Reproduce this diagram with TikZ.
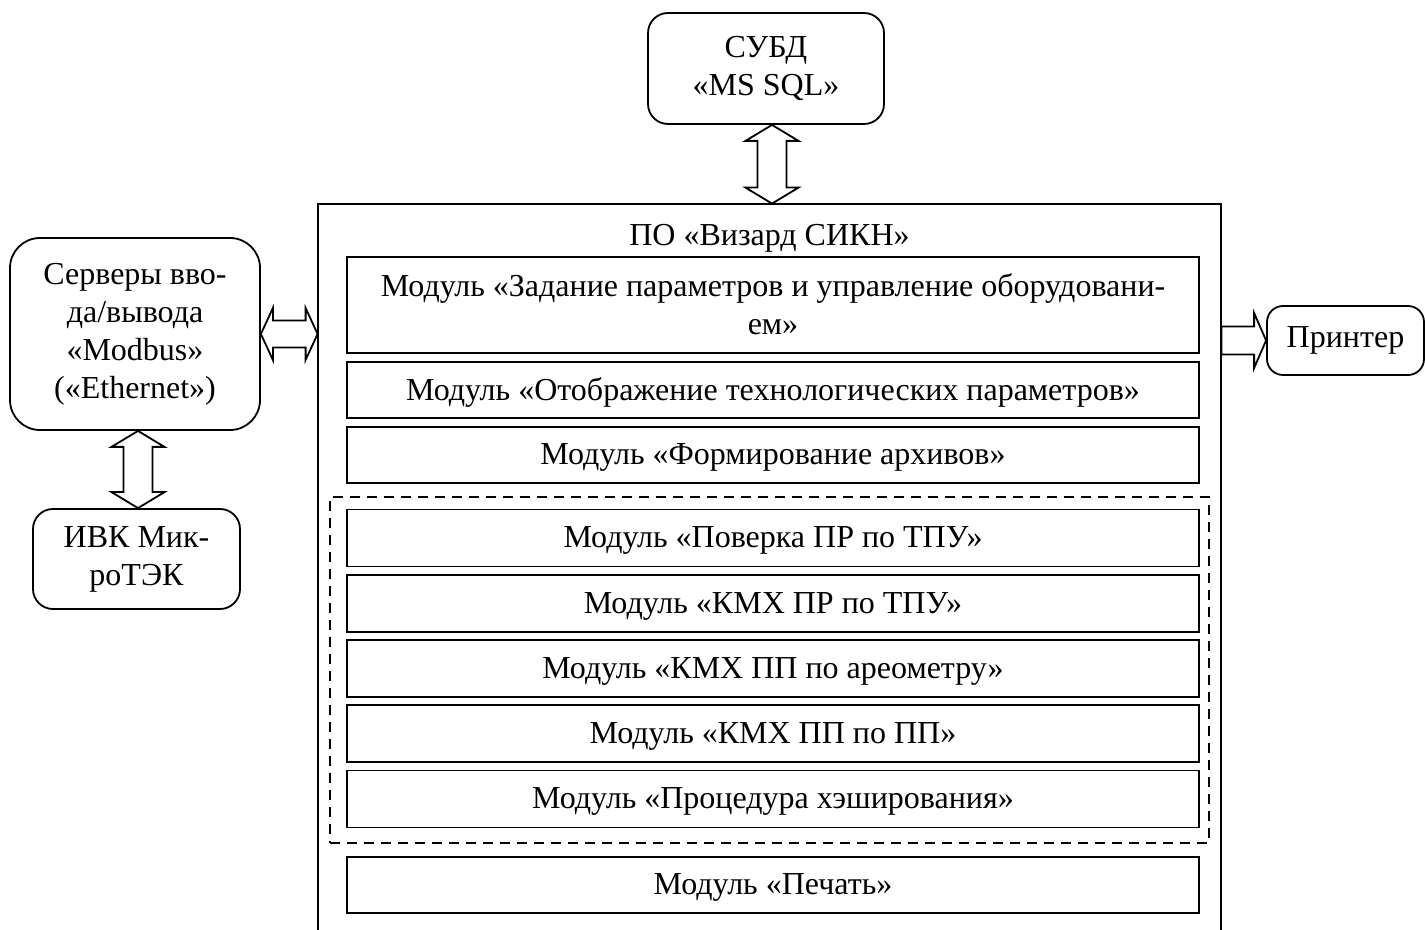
\documentclass[tikz,border=0pt]{standalone}
\usepackage{fontspec}
\setmainfont{Liberation Serif}
\usetikzlibrary{calc}
\tikzset{
  lbl/.style={font=\fontsize{16pt}{19pt}\selectfont, align=center, inner sep=0pt},
  modbox/.style={lbl, draw, line width=0.9pt, minimum width=426pt, text depth=0.6pt},
  rbox/.style={lbl, draw, line width=0.9pt},
  blockarrow/.style={draw, line width=0.9pt, fill=white, line join=miter},
  groupbox/.style={draw, line width=0.9pt, dash pattern=on 5pt off 3.5pt, inner sep=0pt},
  framebox/.style={line width=1pt}
}
\newcommand\myVArrow[2]{%
  \draw[blockarrow] let \p1=(#1), \p2=(#2) in
    (\x1,\y1) -- (\x1+13.25pt,\y1-8pt) -- (\x1+7.25pt,\y1-8pt) -- (\x1+7.25pt,\y2+8pt)
    -- (\x1+13.25pt,\y2+8pt) -- (\x1,\y2) -- (\x1-13.25pt,\y2+8pt) -- (\x1-7.25pt,\y2+8pt)
    -- (\x1-7.25pt,\y1-8pt) -- (\x1-13.25pt,\y1-8pt) -- cycle;}
\newcommand\myHArrow[2]{%
  \draw[blockarrow] let \p1=(#1), \p2=(#2) in
    (\x1,\y1) -- (\x1+6pt,\y1+13pt) -- (\x1+6pt,\y1+6.75pt) -- (\x2-6pt,\y1+6.75pt)
    -- (\x2-6pt,\y1+13pt) -- (\x2,\y1) -- (\x2-6pt,\y1-13pt) -- (\x2-6pt,\y1-6.75pt)
    -- (\x1+6pt,\y1-6.75pt) -- (\x1+6pt,\y1-13pt) -- cycle;}
\newcommand\mySArrow[2]{%
  \draw[blockarrow] let \p1=(#1), \p2=(#2) in
    (\x1,\y1+7pt) -- (\x2-6pt,\y1+7pt) -- (\x2-6pt,\y1+13.75pt) -- (\x2,\y1)
    -- (\x2-6pt,\y1-13.75pt) -- (\x2-6pt,\y1-7pt) -- (\x1,\y1-7pt) -- cycle;}
\begin{document}
\begin{tikzpicture}[x=0.5pt,y=-0.5pt]
\useasboundingbox (0,0) rectangle (1425,930);
\clip (0,0) rectangle (1425,930);

% top DBMS box
\node[rbox, rounded corners=10pt, minimum width=118pt, minimum height=55.5pt] (subd) at (766,68.5) {СУБД\\«MS SQL»};

% main frame (open at bottom)
\node[minimum width=451.5pt, minimum height=396pt, inner sep=0pt] (main) at (769.5,600) {};
\draw[framebox] (main.south west) -- (main.north west) -- (main.north east) -- (main.south east);
\node[lbl] (title) at (769.5,238) {ПО «Визард СИКН»};

% modules
\node[modbox, minimum height=48pt] (m1) at (773,305) {Модуль «Задание параметров и управление оборудовани-\\ем»};
\node[modbox, minimum height=28pt] (m2) at (773,390) {Модуль «Отображение технологических параметров»};
\node[modbox, minimum height=28pt] (m3) at (773,455) {Модуль «Формирование архивов»};
\node[groupbox, minimum width=439.5pt, minimum height=173pt] (grp) at (769.5,670) {};
\node[modbox, minimum height=28.5pt] (m4) at (773,538) {Модуль «Поверка ПР по ТПУ»};
\node[modbox, minimum height=28.5pt] (m5) at (773,603.5) {Модуль «КМХ ПР по ТПУ»};
\node[modbox, minimum height=28.5pt] (m6) at (773,668.5) {Модуль «КМХ ПП по ареометру»};
\node[modbox, minimum height=28.5pt] (m7) at (773,733.5) {Модуль «КМХ ПП по ПП»};
\node[modbox, minimum height=28.5pt] (m8) at (773,799) {Модуль «Процедура хэширования»};
\node[modbox, minimum height=28pt] (m9) at (773,885) {Модуль «Печать»};

% left side
\node[rbox, rounded corners=15pt, minimum width=125pt, minimum height=96pt] (srv) at (135,334) {Серверы вво-\\да/вывода\\«Modbus»\\(«Ethernet»)};
\node[rbox, rounded corners=10pt, minimum width=103.5pt, minimum height=50pt] (ivk) at (136.5,559) {ИВК Мик-\\роТЭК};

% printer
\node[rbox, rounded corners=8pt, minimum width=78.5pt, minimum height=34.5pt] (prn) at (1345.5,340.5) {Принтер};

% connectors
\myVArrow{[xshift=3pt]subd.south}{[xshift=3pt]subd.south |- main.north}
\myHArrow{srv.east}{srv.east -| main.west}
\myVArrow{[xshift=1.5pt]srv.south}{[xshift=1.5pt]srv.south |- ivk.north}
\mySArrow{prn.west -| main.east}{prn.west}
\end{tikzpicture}
\end{document}
